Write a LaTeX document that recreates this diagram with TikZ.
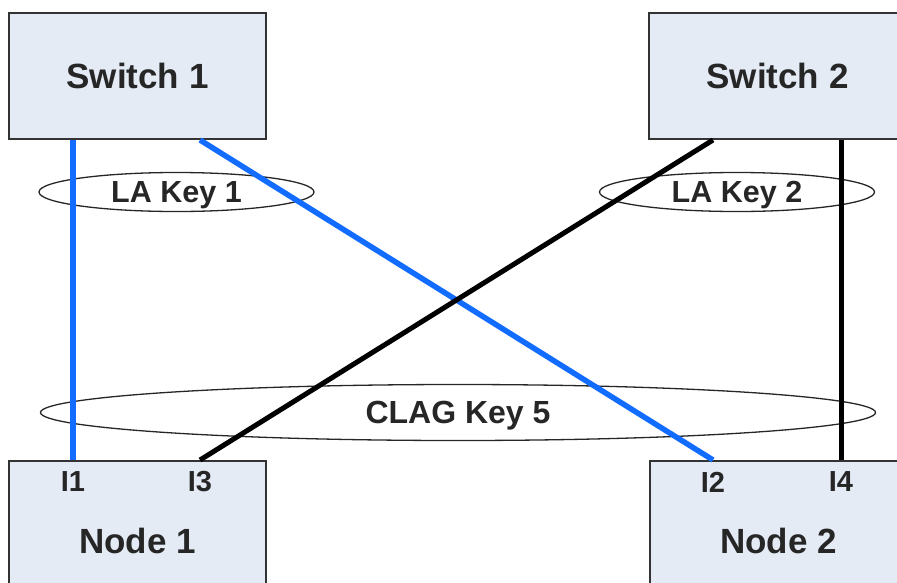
\documentclass[tikz,border=0pt]{standalone}
\usepackage{fontspec}
\setmainfont{Liberation Sans}
\usetikzlibrary{positioning,calc,shapes.geometric}
\definecolor{boxfill}{RGB}{228,235,245}
\definecolor{boxline}{RGB}{51,51,51}
\definecolor{linkblue}{RGB}{18,108,255}
\definecolor{txtgray}{RGB}{38,38,38}
\tikzset{
  dev/.style  ={draw=boxline, fill=boxfill, line width=2pt, minimum width=257pt,
                text=txtgray, font=\fontsize{35}{38}\selectfont\bfseries},
  port/.style ={text=txtgray, inner sep=0pt, font=\fontsize{29}{32}\selectfont\bfseries},
  key/.style  ={ellipse, draw=black!85, line width=1.3pt, inner sep=0pt, text depth=0pt,
                text=txtgray, font=\fontsize{30.5}{33}\selectfont\bfseries},
  bln/.style  ={draw=linkblue, line width=5.5pt},
  kln/.style  ={draw=black, line width=5pt},
}
\begin{document}
\begin{tikzpicture}[x=1pt,y=-1pt]
\useasboundingbox (0,0) rectangle (897,582);
\clip (0,0) rectangle (897,582);
\node[dev,minimum height=126pt] (sw1) at (137.5,76) {Switch 1};
\node[dev,minimum height=126pt] (sw2) at (777.5,76) {Switch 2};
\node[dev,minimum height=160pt] (n1) at (137.5,541) {Node 1};
\node[dev,minimum height=160pt] (n2) at (778.5,541) {Node 2};
\node[port] (i1) at ($(n1.north west)+(65,22)$) {I1};
\node[port] (i3) at ($(n1.north west)+(192,22)$) {I3};
\node[port] (i2) at ($(n2.north west)+(64,22)$) {I2};
\node[port] (i4) at ($(n2.north west)+(192,22)$) {I4};
\node[key,minimum width=275pt,minimum height=39pt] (la1) at (176.5,192) {LA Key 1};
\node[key,minimum width=275pt,minimum height=39pt] (la2) at (737,192) {LA Key 2};
\node[key,minimum width=835pt,minimum height=56pt,font=\fontsize{32}{35}\selectfont\bfseries] (clag) at (458,412.5) {CLAG Key 5};
\draw[bln] (i1 |- sw1.south) -- (i1 |- n1.north);
\draw[bln] (i3 |- sw1.south) -- (i2 |- n2.north);
\draw[kln] (i2 |- sw2.south) -- (i3 |- n1.north);
\draw[kln] (i4 |- sw2.south) -- (i4 |- n2.north);
\end{tikzpicture}
\end{document}
